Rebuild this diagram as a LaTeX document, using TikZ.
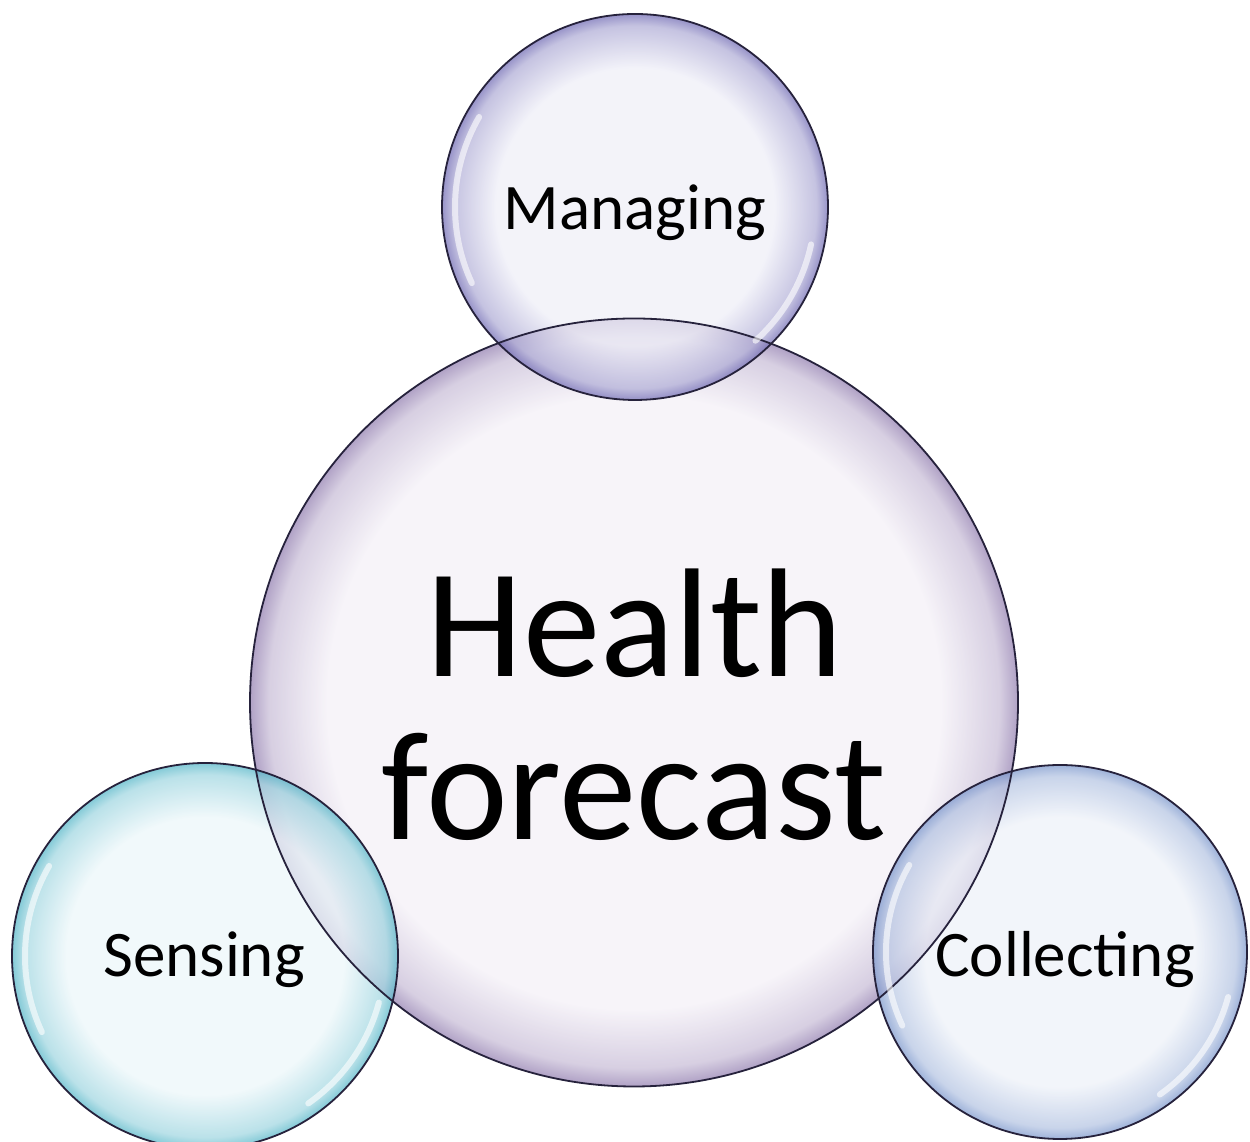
\documentclass[tikz,border=0pt]{standalone}
\usepackage{fontspec}
\setmainfont{Carlito}
\usepackage{xcolor}

\definecolor{bigFill}{RGB}{244,240,247}
\definecolor{bigEdge}{RGB}{146,126,176}
\definecolor{topFill}{RGB}{239,239,248}
\definecolor{topEdge}{RGB}{112,106,180}
\definecolor{senseFill}{RGB}{236,247,250}
\definecolor{senseEdge}{RGB}{84,182,200}
\definecolor{collectFill}{RGB}{238,242,249}
\definecolor{collectEdge}{RGB}{122,150,204}

\pgfdeclareradialshading{bigShade}{\pgfpoint{0bp}{0bp}}{color(0bp)=(bigFill); color(20bp)=(bigFill); color(23.8bp)=(bigEdge!45!bigFill); color(25bp)=(bigEdge); color(50bp)=(bigEdge)}
\pgfdeclareradialshading{topShade}{\pgfpoint{0bp}{0bp}}{color(0bp)=(topFill); color(18bp)=(topFill); color(23.5bp)=(topEdge!50!topFill); color(25bp)=(topEdge); color(50bp)=(topEdge)}
\pgfdeclareradialshading{senseShade}{\pgfpoint{0bp}{0bp}}{color(0bp)=(senseFill); color(18bp)=(senseFill); color(23.5bp)=(senseEdge!50!senseFill); color(25bp)=(senseEdge); color(50bp)=(senseEdge)}
\pgfdeclareradialshading{collectShade}{\pgfpoint{0bp}{0bp}}{color(0bp)=(collectFill); color(18bp)=(collectFill); color(23.5bp)=(collectEdge!50!collectFill); color(25bp)=(collectEdge); color(50bp)=(collectEdge)}

\tikzset{
  bubble/.style={shade,fill opacity=0.72},
  rim/.style={draw=drawColor,line width=1.8pt},
  glint/.style={draw=white,line width=6pt,draw opacity=0.6,line cap=round},
  bigText/.style={text=black,anchor=base,inner sep=0pt,outer sep=0pt,font=\fontsize{155}{186}\selectfont},
  smallText/.style={text=black,anchor=base,inner sep=0pt,outer sep=0pt,font=\fontsize{65}{78}\selectfont}
}

\begin{document}
\begin{tikzpicture}[x=1pt,y=1pt]
\definecolor{drawColor}{RGB}{38,34,60}
\path[use as bounding box,fill=white] (0,0) rectangle (1250,1142);

% circles
\path[bubble,shading=bigShade] (634,439.5) circle (384);

\path[bubble,shading=topShade] (635,935) circle (193);

\path[bubble,shading=senseShade] (205,186) circle (193);

\path[bubble,shading=collectShade] (1060,190) circle (187);

% outlines
\path[rim] (634,439.5) circle (384);
\path[rim] (635,935) circle (193);
\path[rim] (205,186) circle (193);
\path[rim] (1060,190) circle (187);

% reflections
\path[glint] (635,935) ++(150:180) arc (150:205:180);
\path[glint] (635,935) ++(-12:180) arc (-12:-48:180);
\path[glint] (205,186) ++(150:180) arc (150:205:180);
\path[glint] (205,186) ++(-15:180) arc (-15:-55:180);
\path[glint] (1060,190) ++(150:174) arc (150:205:174);
\path[glint] (1060,190) ++(-15:174) arc (-15:-55:174);

% labels
\node[bigText,name=health] at (635,465) {Health};
\node[bigText,name=forecast] at (634,302) {forecast};

\node[smallText,name=managing] at (635,912) {Managing};
\node[smallText,name=sensing] at (204,165) {Sensing};
\node[smallText,name=collecting] at (1065,165) {Collecting};
\end{tikzpicture}
\end{document}
